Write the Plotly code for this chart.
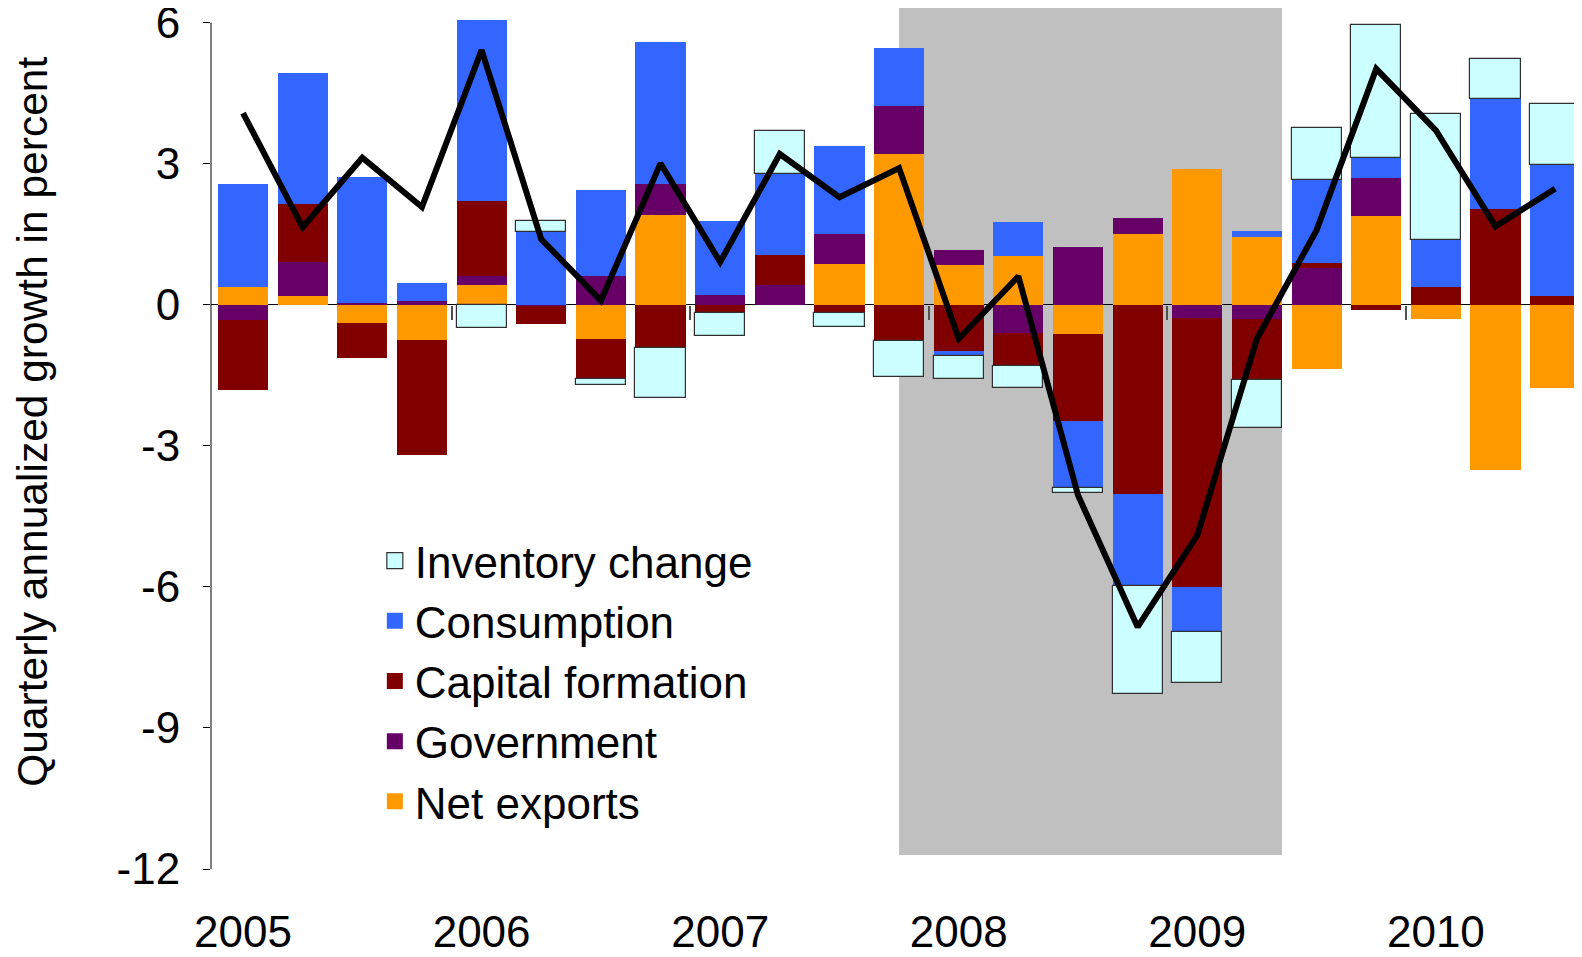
import plotly.graph_objects as go

# quarterly contributions to growth, 2005Q1 .. 2010Q3
quarters = [f"{y}Q{q}" for y in range(2005, 2011) for q in range(1, 5)][:23]
net_exports = [0.37, 0.18, -0.38, -0.74, 0.43, 0.0, -0.72, 1.92, 0.0, 0.0, 0.86, 3.20,
               0.84, 1.03, -0.63, 1.50, 2.88, 1.45, -1.37, 1.90, -0.30, -3.52, -1.77]
government = [-0.33, 0.73, 0.03, 0.09, 0.19, -0.03, 0.62, 0.66, 0.22, 0.43, 0.64, 1.04,
              0.32, -0.60, 1.24, 0.34, -0.28, -0.31, 0.79, 0.79, 0.0, 0.0, 0.0]
capital_formation = [-1.48, 1.24, -0.76, -2.46, 1.60, -0.38, -0.85, -0.91, -0.17, 0.64, -0.17, -0.76,
                     -0.99, -0.70, -1.83, -4.03, -5.72, -1.28, 0.11, -0.11, 0.38, 2.05, 0.18]
consumption = [2.21, 2.79, 2.70, 0.38, 3.85, 1.56, 1.83, 3.02, 1.57, 1.72, 1.87, 1.23,
               -0.09, 0.74, -1.43, -1.94, -0.95, 0.13, 1.76, 0.44, 1.01, 2.34, 2.80]
inventory = [None, None, None, None, -0.50, 0.22, -0.13, -1.08, -0.50, 0.90, -0.29, -0.77,
             -0.50, -0.47, -0.11, -2.30, -1.09, -1.03, 1.10, 2.82, 2.66, 0.83, 1.29]
gdp_growth = [4.08, 1.65, 3.13, 2.08, 5.42, 1.40, 0.09, 3.01, 0.91, 3.21, 2.29, 2.91,
              -0.72, 0.61, -4.05, -6.85, -4.90, -0.72, 1.59, 5.02, 3.71, 1.67, 2.47]

year_labels = ["2005", "2006", "2007", "2008", "2009", "2010"]
y_ticks = [6, 3, 0, -3, -6, -9, -12]
recession = (11.0, 17.42, -11.7, 6.32)  # x0, x1, y0, y1

FONT = "Liberation Sans, Arial, sans-serif"
x = list(range(len(quarters)))
X_RANGE = [-0.537, 22.45]
Y_RANGE = [-12, 6.315]

series = [
    ("Net exports", net_exports, "#FF9900", 0),
    ("Government", government, "#660066", 0),
    ("Capital formation", capital_formation, "#800000", 0),
    ("Consumption", consumption, "#3366FF", 0),
    ("Inventory change", inventory, "#CCFFFF", 1.2),
]

fig = go.Figure()
for name, vals, col, lw in series:
    fig.add_trace(go.Bar(
        x=x, y=vals, name=name, width=0.84, legendgroup=name, showlegend=False,
        marker=dict(color=col, line=dict(color="#303030", width=lw)),
    ))
# legend-only entries: bigger square swatches than the bar default
for name, vals, col, lw in series:
    fig.add_trace(go.Scatter(
        x=[None], y=[None], name=name, legendgroup=name, mode="markers",
        marker=dict(symbol="square", size=16, color=col, line=dict(color="#303030", width=lw)),
    ))

# line sits on the overlay axis (same range) so that axis gets drawn
fig.add_trace(go.Scatter(
    x=x, y=gdp_growth, mode="lines", showlegend=False, xaxis="x2",
    line=dict(color="black", width=6),
))

x0, x1, y0, y1 = recession
fig.add_shape(type="rect", xref="x", yref="y", x0=x0, x1=x1, y0=y0, y1=y1,
              fillcolor="#C0C0C0", line_width=0, layer="below")
# y axis line only spans the labelled range
fig.add_shape(type="line", xref="paper", yref="y", x0=0, x1=0, y0=-12, y1=6,
              line=dict(color="black", width=1))

fig.add_annotation(
    text="Quarterly annualized growth in percent", textangle=-90,
    xref="paper", yref="paper", x=-0.1298, y=0.5195, xanchor="center", yanchor="middle",
    showarrow=False, font=dict(size=42.5, family=FONT, color="black"),
)

# page body has an 8px margin, so the figure is 8px smaller than the window
fig.update_layout(
    width=1574, height=949,
    paper_bgcolor="white", plot_bgcolor="white",
    font=dict(family=FONT, color="black", size=44),
    margin=dict(l=203, r=0, t=0, b=88),
    barmode="relative", bargap=0,
    showlegend=True,
    legend=dict(
        traceorder="reversed", x=0.1195, xanchor="left", y=0.399, yanchor="top",
        font=dict(size=44, family=FONT), bgcolor="rgba(0,0,0,0)", tracegroupgap=0,
    ),
    xaxis=dict(
        range=X_RANGE, showgrid=False, zeroline=False, showline=False, automargin=False,
        tickvals=[4 * i for i in range(len(year_labels))], ticktext=year_labels,
        ticks="", tickfont=dict(size=44), ticklabelstandoff=33, ticklabeloverflow="allow",
    ),
    xaxis2=dict(
        range=X_RANGE, overlaying="x", anchor="free", automargin=False,
        position=(0 - Y_RANGE[0]) / (Y_RANGE[1] - Y_RANGE[0]),
        tickvals=[3.5, 7.5, 11.5, 15.5, 19.5], ticks="outside", ticklen=14,
        tickcolor="#505050", tickwidth=2, showticklabels=False,
        showgrid=False, zeroline=False, showline=False,
    ),
    yaxis=dict(
        range=Y_RANGE, tickvals=y_ticks, ticktext=[str(v) for v in y_ticks],
        ticks="outside", ticklen=7, tickcolor="black", tickwidth=1,
        tickfont=dict(size=44), ticklabelstandoff=14, automargin=False,
        ticklabeloverflow="allow",
        showgrid=False, showline=False,
        zeroline=True, zerolinecolor="black", zerolinewidth=1,
        layer="above traces",
    ),
)

fig.write_html("out.html")
